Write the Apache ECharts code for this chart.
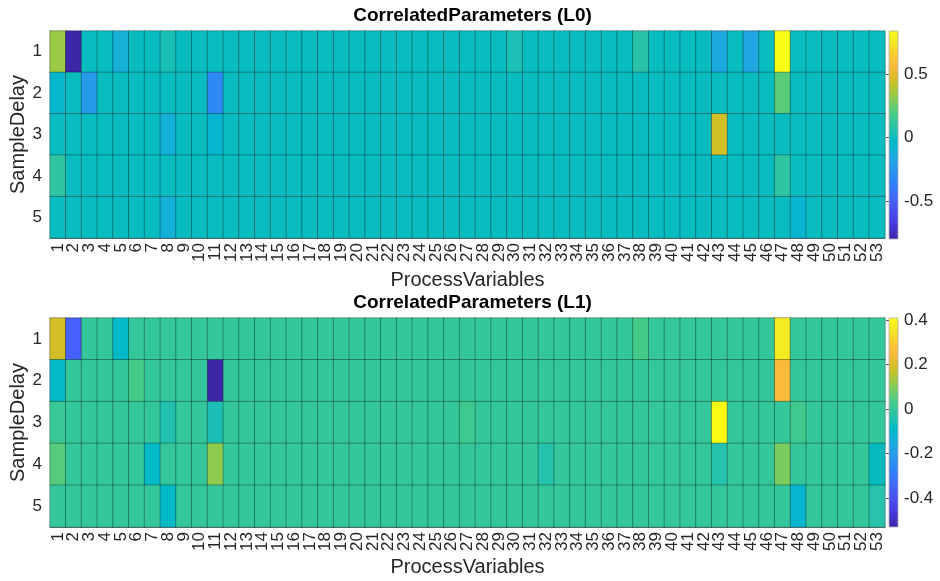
<!DOCTYPE html>
<html>
<head>
<meta charset="utf-8">
<script src="https://cdn.jsdelivr.net/npm/echarts@6/dist/echarts.min.js"></script>
<style>html,body{margin:0;padding:0;background:#fff;}#c{width:940px;height:581px;}</style>
</head>
<body>
<div id="c"></div>
<script>
// ---- categories ----
var processVariables = [];
for (var i = 1; i <= 53; i++) processVariables.push(String(i));
var sampleDelays = ['1', '2', '3', '4', '5'];

// ---- L0 values (rows = SampleDelay 1..5, cols = ProcessVariables 1..53) ----
var L0_delay1 = [0.34,-0.80,0,0,-0.11,0,0,0.03,0,0, 0,0,0,0,0,0,0,0,0,0, 0,0,0,0,0,0,0,0,0,0.04, 0,0,0,0,0,0,0,0.08,0,0, 0,0,-0.15,0,-0.16,0,0.84,0,0,0, 0,0,0];
var L0_delay2 = [-0.06,0,-0.24,0,0,0,0,0,0,0, -0.32,0,0,0,0,0,0,0,0,0, 0,0,0,0,0,0,0,0,0,0, 0,0,0,0,0,0,0,0,0,0, 0,0,0,0,0,0,0.22,0,0,0, 0,0,0];
var L0_delay3 = [0,0,0,0,0,0,0,-0.10,0,0, -0.07,0,0,0,0,0,0,0,0,0, 0,0,0,0,0,0,0,0,0,0, 0,0,0,0,0,0,0,0,0,0, 0,0,0.45,0,0,0,0,0,0,0, 0,0,0];
var L0_delay4 = [0.10,0,0,0,0,0,0,0,0,0, 0,0,0,0,0,0,0,0,0,0, 0,0,0,0,0,0,0,0,0,0, 0,0,0,0,0,0,0,0,0,0, 0,0,0,0,0,0,0.10,0,0,0, 0,0,0];
var L0_delay5 = [0,0,0,0,0,0,0,-0.10,0,0, 0,0,0,0,0,0,0,0,0,0, 0,0,0,0,0,0,0,0,0,0, 0,0,0,0,0,0,0,0,0,0, 0,0,0,0,0,0,0,-0.07,0,0, 0,0,0];

// ---- L1 values ----
var L1_delay1 = [0.19,-0.36,0,0,-0.09,0,0,0,0,0, 0,0,0,0,0,0,0,0,0,0, 0,0,0,0,0,0,0,0,0,0, 0,0,0,0,0,0,0,0.03,0,0, 0,0,0,0,0,0,0.37,0,0,0, 0,0,0];
var L1_delay2 = [-0.09,0,0,0,0,0.03,0,0,0,0, -0.53,0,0,0,0,0,0,0,0,0, 0,0,0,0,0,0,0,0,0,0, 0,0,0,0,0,0,0,0,0,0, 0,0,0,0,0,0,0.25,0,0,0, 0,0,0];
var L1_delay3 = [0.01,0,0,0,0,0,0,-0.04,0,0, -0.05,0,0,0,0,0,0,0,0,0, 0,0,0,0,0,0,0.02,0,0,0, 0,0,0,0,0,0,0,0,0,0, 0,0,0.41,0,0,0,0,0.02,0,0, 0,0,0];
var L1_delay4 = [0.05,0,0,0,0,0,-0.09,0,0,0, 0.11,0,0,0,0,0,0,0,0,0, 0,0,0,0,0,0,0,0,0,0, 0,-0.035,0,0,0,0,0,0,0,0, 0,0,-0.035,0,0,0,0.09,0,0,0, 0,0,-0.075];
var L1_delay5 = [0,0,0,0,0,0,0,-0.09,0,0, 0,0,0,0,0,0,0,0,0,0, 0,0,0,0,0,0,0,0,0,0, 0,0,0,0,0,0,0,0,0,0, 0,0,0,0,0,0,0,-0.11,0,0, 0,0,-0.03];

// ---- colour limits and colorbar ticks ----
var L0_limits = [-0.80, 0.84];
var L1_limits = [-0.53, 0.41];
var L0_ticks = [-0.5, 0, 0.5];
var L1_ticks = [-0.4, -0.2, 0, 0.2, 0.4];

// ---- parula colormap ----
var parula = [
[0.2422,0.1504,0.6603],[0.2504,0.1650,0.7076],[0.2578,0.1818,0.7511],[0.2647,0.1978,0.7952],
[0.2706,0.2147,0.8364],[0.2751,0.2342,0.8710],[0.2783,0.2559,0.8991],[0.2803,0.2782,0.9221],
[0.2813,0.3006,0.9414],[0.2810,0.3228,0.9579],[0.2795,0.3447,0.9717],[0.2760,0.3667,0.9829],
[0.2699,0.3892,0.9906],[0.2602,0.4123,0.9952],[0.2440,0.4358,0.9988],[0.2206,0.4603,0.9973],
[0.1963,0.4847,0.9892],[0.1834,0.5074,0.9798],[0.1786,0.5289,0.9682],[0.1764,0.5499,0.9520],
[0.1687,0.5703,0.9359],[0.1540,0.5902,0.9218],[0.1460,0.6091,0.9079],[0.1380,0.6276,0.8973],
[0.1248,0.6459,0.8883],[0.1113,0.6635,0.8763],[0.0952,0.6798,0.8598],[0.0689,0.6948,0.8394],
[0.0297,0.7082,0.8163],[0.0036,0.7203,0.7917],[0.0067,0.7312,0.7660],[0.0433,0.7411,0.7394],
[0.0964,0.7500,0.7120],[0.1408,0.7584,0.6842],[0.1717,0.7670,0.6554],[0.1938,0.7758,0.6251],
[0.2161,0.7843,0.5923],[0.2470,0.7918,0.5567],[0.2906,0.7973,0.5188],[0.3406,0.8008,0.4789],
[0.3909,0.8029,0.4354],[0.4456,0.8024,0.3909],[0.5044,0.7993,0.3480],[0.5616,0.7942,0.3045],
[0.6174,0.7876,0.2612],[0.6720,0.7793,0.2227],[0.7242,0.7698,0.1910],[0.7738,0.7598,0.1646],
[0.8203,0.7498,0.1535],[0.8634,0.7406,0.1596],[0.9035,0.7330,0.1774],[0.9393,0.7288,0.2100],
[0.9728,0.7298,0.2394],[0.9956,0.7434,0.2371],[0.9970,0.7659,0.2199],[0.9952,0.7893,0.2028],
[0.9892,0.8136,0.1885],[0.9786,0.8386,0.1766],[0.9676,0.8639,0.1643],[0.9610,0.8890,0.1537],
[0.9597,0.9135,0.1423],[0.9628,0.9373,0.1265],[0.9691,0.9606,0.1064],[0.9769,0.9839,0.0805]
];
var parulaHex = parula.map(function (c) {
  return 'rgb(' + Math.round(c[0]*255) + ',' + Math.round(c[1]*255) + ',' + Math.round(c[2]*255) + ')';
});

function toCells(rows) {
  var out = [];
  rows.forEach(function (row, r) {
    row.forEach(function (v, c) { out.push([c, r, v]); });
  });
  return out;
}
var L0_cells = toCells([L0_delay1, L0_delay2, L0_delay3, L0_delay4, L0_delay5]);
var L1_cells = toCells([L1_delay1, L1_delay2, L1_delay3, L1_delay4, L1_delay5]);

var FONT = '"Liberation Sans", Arial, Helvetica, sans-serif';
var TXT = '#262626';

var chart = echarts.init(document.getElementById('c'), null, {renderer: 'canvas'});

function colorbarRender(params, api) {
  var p1 = api.coord([0, api.value(2)]);
  var p2 = api.coord([1, api.value(1)]);
  var stops = parulaHex.map(function (col, i) { return {offset: i / (parulaHex.length - 1), color: col}; });
  return {
    type: 'rect',
    shape: {x: p1[0], y: p1[1], width: p2[0] - p1[0], height: p2[1] - p1[1]},
    style: {fill: new echarts.graphic.LinearGradient(0, 1, 0, 0, stops), stroke: '#b0b0b0', lineWidth: 0.8}
  };
}

function heatXAxis(gi, gap) {
  return {
    type: 'category', gridIndex: gi, data: processVariables, position: 'bottom',
    name: 'ProcessVariables', nameLocation: 'middle', nameGap: gap, nameMoveOverlap: false,
    nameTextStyle: {fontFamily: FONT, fontSize: 20, color: TXT},
    axisLine: {show: true, lineStyle: {color: '#262626', width: 0.6}},
    axisTick: {show: false},
    axisLabel: {rotate: 90, fontFamily: FONT, fontSize: 17, color: TXT, margin: 5, interval: 0},
    splitLine: {show: false}
  };
}
function heatYAxis(gi) {
  return {
    type: 'category', gridIndex: gi, data: sampleDelays, inverse: true,
    name: 'SampleDelay', nameLocation: 'middle', nameGap: 22, nameRotate: 90, nameMoveOverlap: false,
    nameTextStyle: {fontFamily: FONT, fontSize: 20, color: TXT},
    axisLine: {show: true, lineStyle: {color: '#262626', width: 0.6}},
    axisTick: {show: false},
    axisLabel: {fontFamily: FONT, fontSize: 17, color: TXT, margin: 8},
    splitLine: {show: false}
  };
}
function cbYAxis(gi, lim, ticks) {
  return {
    type: 'value', gridIndex: gi, min: lim[0], max: lim[1], position: 'right',
    axisLine: {show: false},
    axisTick: {show: true, inside: true, length: 3, lineStyle: {color: '#262626', width: 0.8}, customValues: ticks},
    axisLabel: {fontFamily: FONT, fontSize: 17, color: TXT, margin: 6, customValues: ticks},
    splitLine: {show: false}
  };
}
function cbXAxis(gi) {
  return {type: 'value', gridIndex: gi, min: 0, max: 1, show: false};
}

var option = {
  backgroundColor: '#ffffff',
  animation: false,
  title: [
    {text: 'CorrelatedParameters (L0)', left: 467.5, textAlign: 'center', top: 1,
     textStyle: {fontFamily: FONT, fontSize: 19, fontWeight: 'bold', color: '#000'}},
    {text: 'CorrelatedParameters (L1)', left: 467.5, textAlign: 'center', top: 288,
     textStyle: {fontFamily: FONT, fontSize: 19, fontWeight: 'bold', color: '#000'}}
  ],
  grid: [
    {left: 50, top: 31, width: 835, height: 207, outerBoundsMode: 'none', containLabel: false},
    {left: 50, top: 318, width: 835, height: 209, outerBoundsMode: 'none', containLabel: false},
    {left: 889, top: 31, width: 9, height: 208, outerBoundsMode: 'none', containLabel: false},
    {left: 889, top: 318, width: 9, height: 209, outerBoundsMode: 'none', containLabel: false}
  ],
  xAxis: [heatXAxis(0, 32), heatXAxis(1, 30), cbXAxis(2), cbXAxis(3)],
  yAxis: [heatYAxis(0), heatYAxis(1), cbYAxis(2, L0_limits, L0_ticks), cbYAxis(3, L1_limits, L1_ticks)],
  visualMap: [
    {show: false, type: 'continuous', seriesIndex: 0, dimension: 2, min: L0_limits[0], max: L0_limits[1], inRange: {color: parulaHex}},
    {show: false, type: 'continuous', seriesIndex: 1, dimension: 2, min: L1_limits[0], max: L1_limits[1], inRange: {color: parulaHex}}
  ],
  series: [
    {type: 'heatmap', xAxisIndex: 0, yAxisIndex: 0, data: L0_cells,
     itemStyle: {borderColor: 'rgba(0,0,0,0.4)', borderWidth: 0.8}, emphasis: {disabled: true}},
    {type: 'heatmap', xAxisIndex: 1, yAxisIndex: 1, data: L1_cells,
     itemStyle: {borderColor: 'rgba(0,0,0,0.4)', borderWidth: 0.8}, emphasis: {disabled: true}},
    {type: 'custom', xAxisIndex: 2, yAxisIndex: 2, data: [[0, L0_limits[0], L0_limits[1]]], renderItem: colorbarRender, silent: true, z: 1},
    {type: 'custom', xAxisIndex: 3, yAxisIndex: 3, data: [[0, L1_limits[0], L1_limits[1]]], renderItem: colorbarRender, silent: true, z: 1}
  ]
};
chart.setOption(option);
</script>
</body>
</html>
